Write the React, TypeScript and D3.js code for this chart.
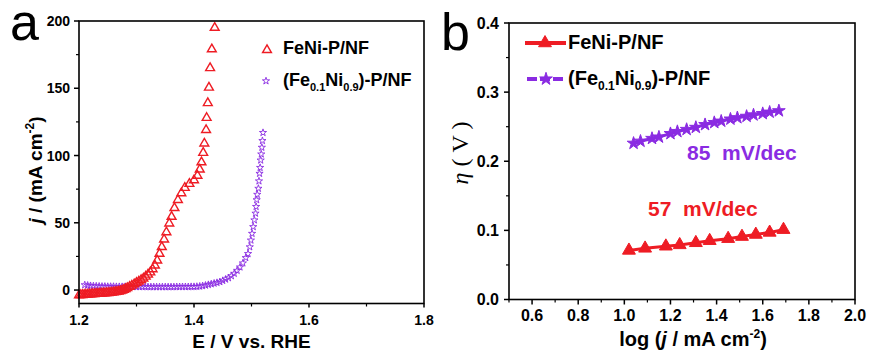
import React from "react";
import * as d3 from "d3";

// ---------- Data: panel a (LSV) ----------
const redE = [1.200,1.203,1.206,1.209,1.212,1.215,1.218,1.221,1.224,1.227,1.230,1.233,1.236,1.239,1.242,1.245,1.248,1.251,1.254,1.257,1.260,1.263,1.266,1.269,1.272,1.275,1.278,1.281,1.284,1.288,1.292,1.296,1.300,1.304,1.308,1.312,1.316,1.320,1.324,1.328,1.332,1.336,1.340,1.344,1.348,1.352,1.357,1.361,1.366,1.372,1.378,1.384,1.392,1.400,1.406,1.410,1.413,1.416,1.418,1.421,1.422,1.424,1.426,1.428,1.431,1.436];
const redJ = [-3.8,-3.7,-3.6,-3.5,-3.4,-3.3,-3.2,-3.1,-3.0,-2.9,-2.8,-2.7,-2.6,-2.5,-2.4,-2.3,-2.2,-2.1,-2.0,-1.9,-1.7,-1.5,-1.3,-1.0,-0.7,-0.3,0.2,0.8,1.5,2.4,3.3,4.3,5.4,6.4,7.5,8.6,10.0,11.5,13.2,15.5,18.3,22,27,32,37.6,43,49.5,54.5,61,67,72,76,79,81.7,85,89.6,95,102,109,119,128,139,150.5,165,179,195];

const purpleE = [1.210,1.215,1.220,1.225,1.230,1.235,1.240,1.245,1.250,1.255,1.260,1.265,1.270,1.275,1.280,1.285,1.290,1.295,1.300,1.305,1.310,1.315,1.320,1.325,1.330,1.335,1.340,1.345,1.350,1.355,1.360,1.365,1.370,1.375,1.380,1.385,1.390,1.395,1.400,1.405,1.410,1.415,1.420,1.425,1.430,1.435,1.440,1.445,1.450,1.455,1.460,1.465,1.470,1.475,1.480,1.485,1.490,1.494,1.497,1.499,1.501,1.503,1.505,1.507,1.508,1.509,1.510,1.512,1.513,1.514,1.515,1.516,1.517,1.518,1.519,1.520];
const purpleJ = [3.8,3.5,3.2,3.0,2.9,2.8,2.7,2.7,2.6,2.6,2.6,2.5,2.5,2.5,2.5,2.4,2.4,2.4,2.4,2.4,2.4,2.4,2.3,2.3,2.3,2.3,2.3,2.3,2.3,2.3,2.3,2.3,2.4,2.4,2.4,2.4,2.4,2.5,2.5,2.6,2.8,3.1,3.5,4.0,4.5,5.0,5.5,6.1,7.0,8.0,9.0,10.5,12.3,14.5,17,20,24,27,32,37,42,47,52,57,62,67,71,75.5,81,86.6,91,96.5,101,106,111,117];

// ---------- Data: panel b (Tafel) ----------
const tafelRedX = [1.02,1.09,1.18,1.24,1.31,1.37,1.45,1.51,1.57,1.63,1.69];
const tafelRedY = [0.071,0.074,0.077,0.079,0.082,0.085,0.088,0.091,0.094,0.097,0.101];
const tafelPurX = [1.04,1.07,1.12,1.15,1.20,1.23,1.27,1.31,1.35,1.39,1.42,1.46,1.49,1.53,1.56,1.60,1.63,1.67];
const tafelPurY = [0.226,0.229,0.233,0.235,0.240,0.243,0.246,0.249,0.253,0.256,0.258,0.261,0.263,0.265,0.267,0.269,0.271,0.273];

const xTicksA = [1.2, 1.4, 1.6, 1.8];
const xMinorA = [1.3, 1.5, 1.7];
const yTicksA = [0, 50, 100, 150, 200];
const yMinorA = [25, 75, 125, 175];
const xTicksB = [0.6, 0.8, 1.0, 1.2, 1.4, 1.6, 1.8, 2.0];
const xMinorB = [0.5, 0.7, 0.9, 1.1, 1.3, 1.5, 1.7, 1.9];
const yTicksB = [0.0, 0.1, 0.2, 0.3, 0.4];
const yMinorB = [0.05, 0.15, 0.25, 0.35];

const RED = "#ee1c24";
const PURPLE = "#8a2be2";
const FONT = "'Liberation Sans', Arial, sans-serif";

export default function App() {
  const xA = d3.scaleLinear().domain([1.2, 1.8]).range([79, 424]);
  const yA = d3.scaleLinear().domain([-10, 200]).range([303.5, 21]);
  const xB = d3.scaleLinear().domain([0.5, 2.0]).range([509, 855]);
  const yB = d3.scaleLinear().domain([0, 0.4]).range([299.5, 23]);

  const triA = d3.symbol().type(d3.symbolTriangle).size(34)() as string;
  const starA = d3.symbol().type(d3.symbolStar).size(16)() as string;
  const triB = d3.symbol().type(d3.symbolTriangle).size(72)() as string;
  const starB = d3.symbol().type(d3.symbolStar).size(50)() as string;

  const lineB = d3.line<[number, number]>().x(d => xB(d[0])).y(d => yB(d[1]));
  const redPts: [number, number][] = tafelRedX.map((x, i) => [x, tafelRedY[i]]);
  const purPts: [number, number][] = tafelPurX.map((x, i) => [x, tafelPurY[i]]);

  const [ax0, ax1] = xA.range();
  const [ay0, ay1] = yA.range();
  const [bx0, bx1] = xB.range();
  const [by0, by1] = yB.range();

  return (
    <svg width={871} height={355} style={{ position: "absolute", left: 0, top: 0, background: "#fff" }} fontFamily={FONT}>
      <rect x={0} y={0} width={871} height={355} fill="#fff" />
      {/* ================= Panel a ================= */}
      <text x={10} y={40} fontSize={52} fill="#000">a</text>
      {/* data */}
      <g>
        {purpleE.map((e, i) => (
          <path key={"pa" + i} d={starA} transform={`translate(${xA(e)},${yA(purpleJ[i])})`} fill="none" stroke={PURPLE} strokeWidth={0.9} />
        ))}
        {redE.map((e, i) => (
          <path key={"ra" + i} d={triA} transform={`translate(${xA(e)},${yA(redJ[i])})`} fill="none" stroke={RED} strokeWidth={1.4} />
        ))}
      </g>
      {/* frame */}
      <rect x={ax0} y={ay1} width={ax1 - ax0} height={ay0 - ay1} fill="none" stroke="#000" strokeWidth={1.6} />
      {xTicksA.map(t => (
        <g key={"xa" + t}>
          <line x1={xA(t)} x2={xA(t)} y1={ay0} y2={ay0 + 4} stroke="#000" strokeWidth={1.5} />
          <text x={xA(t)} y={325} textAnchor="middle" fontSize={14} fontWeight="bold">{t.toFixed(1)}</text>
        </g>
      ))}
      {xMinorA.map(t => (
        <line key={"xma" + t} x1={xA(t)} x2={xA(t)} y1={ay0} y2={ay0 + 3} stroke="#000" strokeWidth={1.2} />
      ))}
      {yTicksA.map(t => (
        <g key={"ya" + t}>
          <line x1={ax0 - 5} x2={ax0} y1={yA(t)} y2={yA(t)} stroke="#000" strokeWidth={1.5} />
          <text x={70} y={yA(t) + 5} textAnchor="end" fontSize={14} fontWeight="bold">{t}</text>
        </g>
      ))}
      {yMinorA.map(t => (
        <line key={"yma" + t} x1={ax0 - 3} x2={ax0} y1={yA(t)} y2={yA(t)} stroke="#000" strokeWidth={1.2} />
      ))}
      <text x={(ax0 + ax1) / 2} y={348} textAnchor="middle" fontSize={19} fontWeight="bold">E / V vs. RHE</text>
      <text transform="translate(41.5,170) rotate(-90)" textAnchor="middle" fontSize={19} fontWeight="bold">
        <tspan fontStyle="italic">j</tspan>
        <tspan> / (mA cm</tspan>
        <tspan fontSize={12} dy={-8}>-2</tspan>
        <tspan dy={8}>)</tspan>
      </text>
      {/* legend a */}
      <path d={triA} transform="translate(267,50)" fill="none" stroke={RED} strokeWidth={1.4} />
      <text x={283} y={54} fontSize={18} fontWeight="bold">FeNi-P/NF</text>
      <path d={starA} transform="translate(266,81)" fill="none" stroke={PURPLE} strokeWidth={0.9} />
      <text x={283} y={86} fontSize={18} fontWeight="bold">
        <tspan>(Fe</tspan>
        <tspan fontSize={11} dy={5}>0.1</tspan>
        <tspan dy={-5}>Ni</tspan>
        <tspan fontSize={11} dy={5}>0.9</tspan>
        <tspan dy={-5}>)-P/NF</tspan>
      </text>

      {/* ================= Panel b ================= */}
      <text x={441} y={50} fontSize={52} fill="#000">b</text>
      <path d={lineB(redPts) as string} fill="none" stroke={RED} strokeWidth={3} />
      {redPts.map((p, i) => (
        <path key={"rb" + i} d={triB} transform={`translate(${xB(p[0])},${yB(p[1])})`} fill={RED} stroke={RED} strokeWidth={1} />
      ))}
      <path d={lineB(purPts) as string} fill="none" stroke={PURPLE} strokeWidth={3} />
      {purPts.map((p, i) => (
        <path key={"pb" + i} d={starB} transform={`translate(${xB(p[0])},${yB(p[1])})`} fill={PURPLE} stroke={PURPLE} strokeWidth={1} />
      ))}
      <rect x={bx0} y={by1} width={bx1 - bx0} height={by0 - by1} fill="none" stroke="#000" strokeWidth={1.6} />
      {xTicksB.map(t => (
        <g key={"xb" + t}>
          <line x1={xB(t)} x2={xB(t)} y1={by0} y2={by0 + 5} stroke="#000" strokeWidth={1.5} />
          <text x={xB(t)} y={321} textAnchor="middle" fontSize={16} fontWeight="bold">{t.toFixed(1)}</text>
        </g>
      ))}
      {xMinorB.map(t => (
        <line key={"xmb" + t} x1={xB(t)} x2={xB(t)} y1={by0} y2={by0 + 3} stroke="#000" strokeWidth={1.2} />
      ))}
      {yTicksB.map(t => (
        <g key={"yb" + t}>
          <line x1={bx0 - 5} x2={bx0} y1={yB(t)} y2={yB(t)} stroke="#000" strokeWidth={1.5} />
          <text x={499} y={yB(t) + 5.5} textAnchor="end" fontSize={16} fontWeight="bold">{t.toFixed(1)}</text>
        </g>
      ))}
      {yMinorB.map(t => (
        <line key={"ymb" + t} x1={bx0 - 3} x2={bx0} y1={yB(t)} y2={yB(t)} stroke="#000" strokeWidth={1.2} />
      ))}
      <text x={(bx0 + bx1) / 2 + 11} y={346} textAnchor="middle" fontSize={20} fontWeight="bold">
        <tspan>log (</tspan>
        <tspan fontStyle="italic">j</tspan>
        <tspan> / mA cm</tspan>
        <tspan fontSize={12} dy={-8}>-2</tspan>
        <tspan dy={8}>)</tspan>
      </text>
      <text transform="translate(468,153) rotate(-90)" textAnchor="middle" fontSize={24} fontFamily="'Liberation Serif', 'Times New Roman', serif">
        <tspan fontStyle="italic">η</tspan>
        <tspan> ( V )</tspan>
      </text>
      {/* legend b */}
      <line x1={525} x2={566} y1={43} y2={43} stroke={RED} strokeWidth={4} />
      <path d={triB} transform="translate(545,43)" fill={RED} stroke={RED} />
      <text x={568} y={49} fontSize={20} fontWeight="bold">FeNi-P/NF</text>
      <line x1={527} x2={565} y1={79} y2={79} stroke={PURPLE} strokeWidth={4} strokeDasharray="10,3" />
      <path d={starB} transform="translate(546,79)" fill={PURPLE} stroke={PURPLE} />
      <text x={568} y={85} fontSize={20} fontWeight="bold">
        <tspan>(Fe</tspan>
        <tspan fontSize={12} dy={5}>0.1</tspan>
        <tspan dy={-5}>Ni</tspan>
        <tspan fontSize={12} dy={5}>0.9</tspan>
        <tspan dy={-5}>)-P/NF</tspan>
      </text>
      <text x={687} y={160} fontSize={21} fontWeight="bold" fill={PURPLE} xmlSpace="preserve">85  mV/dec</text>
      <text x={648} y={216} fontSize={21} fontWeight="bold" fill={RED} xmlSpace="preserve">57  mV/dec</text>
    </svg>
  );
}
